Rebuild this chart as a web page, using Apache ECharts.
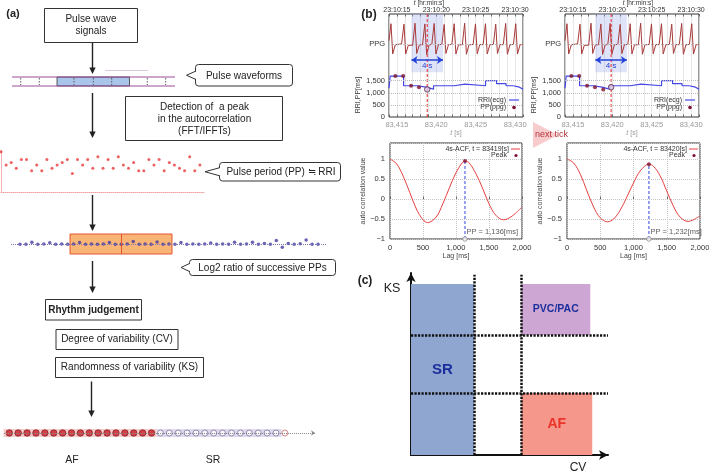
<!DOCTYPE html>
<html><head><meta charset="utf-8">
<script src="https://cdn.jsdelivr.net/npm/echarts@6/dist/echarts.min.js"></script>
<style>html,body{margin:0;padding:0;background:#fff}#c{width:709px;height:474px}</style>
</head><body><div id="c"></div>
<script>
// ===== Panel (b): time series (shared by both snapshots) =====
const ppgT = [83414.0, 83414.25, 83414.47, 83414.8, 83415.0, 83415.6,
  83415.9, 83416.12, 83416.45, 83416.65, 83417.0,
  83417.3, 83417.52, 83417.85, 83418.02, 83418.25,
  83418.55, 83418.77, 83419.1, 83419.27, 83419.43,
  83419.73, 83419.95, 83420.28, 83420.45, 83420.7,
  83421.0, 83421.22, 83421.55, 83421.72, 83421.97,
  83422.27, 83422.49, 83422.82, 83423.0, 83423.3,
  83423.6, 83423.82, 83424.15, 83424.33, 83424.67,
  83424.97, 83425.19, 83425.52, 83425.7, 83425.94,
  83426.24, 83426.46, 83426.79, 83426.97, 83427.24,
  83427.54, 83427.76, 83428.09, 83428.27, 83428.5,
  83428.8, 83429.02, 83429.35, 83429.53, 83429.78,
  83430.08, 83430.3, 83430.63, 83430.8, 83431.0];
const ppgV = [3150, 3850, 2600, 2980, 3060, 3020,
  3830, 2600, 2960, 3040, 2960,
  3870, 2620, 2980, 3050, 2980,
  3840, 2580, 2980, 3050, 2990,
  3860, 2600, 2990, 3060, 2990,
  3820, 2620, 2990, 3060, 2990,
  3850, 2600, 2980, 3050, 2980,
  3870, 2590, 2980, 3060, 2990,
  3840, 2610, 2990, 3050, 2980,
  3850, 2600, 2980, 3060, 2990,
  3830, 2620, 2990, 3050, 2980,
  3860, 2590, 2980, 3060, 2990,
  3850, 2600, 2980, 3060, 3000];
const rriT = [83414.0, 83414.15, 83415.85, 83417.6, 83418.7, 83419.65, 83422.25, 83423.65, 83426.25, 83427.65, 83428.85, 83429.75, 83430.55, 83431.0];
const rriV = [1190, 1690, 1290, 1230, 1150, 1290, 1360, 1290, 1500, 1375, 1290, 1230, 1150, 1150];
const ppT = [83414.8, 83415.8, 83416.8, 83417.8, 83418.85, 83419.85];
const ppV = [1690, 1690, 1290, 1230, 1136, 1232];
const currentIdx = [4, 5];          // left snapshot, right snapshot ("next tick")
const windowSec = 4;
const refLines = [500, 1000, 1500, 3000];

// ===== Panel (b): autocorrelation functions =====
const acfLagL = [0,100,200,300,400,500,570,700,800,900,1000,1100,1136,1200,1300,1400,1500,1600,1720,1800,1900,2000];
const acfValL = [1.0,0.88,0.57,0.16,-0.25,-0.52,-0.59,-0.45,-0.12,0.28,0.66,0.92,0.95,0.9,0.64,0.28,-0.12,-0.4,-0.52,-0.48,-0.36,-0.2];
const acfLagR = [0,100,200,300,400,500,610,700,800,900,1000,1100,1232,1300,1400,1500,1600,1700,1820,1900,2000];
const acfValR = [1.0,0.9,0.62,0.2,-0.2,-0.47,-0.57,-0.5,-0.28,0.05,0.4,0.7,0.87,0.82,0.58,0.2,-0.18,-0.45,-0.56,-0.52,-0.42];
const acfPeakLag = [1136, 1232];
const acfPeakVal = [0.95, 0.87];

// ===== Panel (a) =====
const ppDotsA = [1075, 885, 920, 840, 965, 965, 805, 885, 805, 965, 840, 885, 920, 965, 765, 965, 885, 965, 840, 1005,
  840, 965, 840, 1005, 885, 840, 920, 805, 805, 965, 885, 965, 805, 920, 885, 840, 805, 1005, 805, 885];
const log2Ratio = [-0.02,-0.02,0.12,-0.02,0,0.08,-0.02,0,-0.02,0,0.1,-0.02,0,-0.02,0,0.1,-0.02,-0.02,0,0.17,
  -0.02,0,-0.02,0.14,-0.02,0,-0.02,0.1,-0.02,0,-0.02,0,0.06,-0.02,0,-0.02,0.12,-0.02,0,0.12,
  -0.02,0.04,-0.02,0.24,-0.22,0.04,-0.02,0.02,0.27,-0.02,-0.02];
const windowA = [8.4, 17, 25.5];   // start, centre, end (beat index)
const rhythmSeq = ['AF','AF','AF','AF','AF','AF','AF','AF','AF','AF','AF','AF','AF','AF','AF','AF','AF',
  'SR','SR','SR','SR','SR','SR','SR','SR','SR','SR','SR','SR','SR','SR','?'];

// ===== Panel (c) =====
const regionNames = ['SR', 'PVC/PAC', 'AF'];
const regionCV = [[0, 3.2], [5.6, 9.1], [5.6, 9.2]];
const regionKS = [[0, 9.4], [6.6, 9.4], [0, 3.4]];
const cvThresholds = [3.2, 5.6];
const ksThresholds = [3.4, 6.6];

// ------------------------------------------------------------
const FONT = 'Liberation Sans';
const chart = echarts.init(document.getElementById('c'), null, {renderer: 'canvas', width: 709, height: 474});

function timeFmt(v) {
  v = Math.round(v); if (v % 5) return '';
  const h = Math.floor(v / 3600), m = Math.floor(v % 3600 / 60), s = v % 60;
  return h + ':' + String(m).padStart(2, '0') + ':' + String(s).padStart(2, '0');
}
function secFmt(v) { v = Math.round(v); return v % 5 ? '' : v.toLocaleString('en-US'); }
function rriFmt(v) { if (v === 3000) return 'PPG'; if (v <= 1500) return v.toLocaleString('en-US'); return ''; }
function acfYFmt(v) { const r = Math.round(v * 2) / 2; if (Math.abs(r - v) > 1e-6 || v > 1.01) return ''; return String(r).replace('-', '\u2212'); }

const gridBase = {show: true, borderColor: '#333', borderWidth: 1, backgroundColor: 'transparent', containLabel: false, outerBoundsMode: 'none'};
const grids = [
  Object.assign({left: 389, top: 14, width: 134, height: 103}, gridBase),
  Object.assign({left: 565, top: 14, width: 134, height: 103}, gridBase),
  Object.assign({left: 390, top: 143, width: 132, height: 96}, gridBase),
  Object.assign({left: 567, top: 143, width: 133, height: 96}, gridBase),
  {left: 411, top: 273, width: 197, height: 182, containLabel: false, outerBoundsMode: 'none'},
  {left: 1, top: 150, width: 204, height: 42, containLabel: false, outerBoundsMode: 'none'},
  {left: 11, top: 234, width: 316, height: 20, containLabel: false, outerBoundsMode: 'none'},
  {left: 0.4, top: 425, width: 320, height: 16, containLabel: false, outerBoundsMode: 'none'}
];

function tBottom(g) {
  return {gridIndex: g, type: 'value', position: 'bottom', min: 83414, max: 83431, interval: 1,
    axisLine: {show: false}, axisTick: {show: true, inside: true, length: 2.5, lineStyle: {color: '#666'}},
    axisLabel: {fontSize: 7.5, color: '#999', margin: 4, formatter: secFmt},
    splitLine: {show: true, lineStyle: {color: '#e0e0e0', width: 0.8}},
    name: '{i|t} [s]', nameLocation: 'middle', nameGap: 10,
    nameTextStyle: {fontSize: 7, color: '#999', rich: {i: {fontStyle: 'italic', fontSize: 7, color: '#999'}}}};
}
function tTop(g) {
  return {gridIndex: g, type: 'value', position: 'top', min: 83414, max: 83431, interval: 1,
    axisLine: {show: false}, axisTick: {show: true, inside: true, length: 2.5, lineStyle: {color: '#666'}},
    axisLabel: {fontSize: 7, color: '#333', margin: 0.5, formatter: timeFmt},
    splitLine: {show: false}};
}
function acfX(g) {
  return {gridIndex: g, type: 'value', min: 0, max: 2000, interval: 500,
    axisLine: {show: false}, axisTick: {show: true, inside: true, length: 2.5, lineStyle: {color: '#666'}},
    axisLabel: {fontSize: 7.5, color: '#333', margin: 5, formatter: v => v.toLocaleString('en-US')},
    splitLine: {show: true, lineStyle: {color: '#c4c4c4', type: 'dotted'}},
    name: 'Lag [ms]', nameLocation: 'middle', nameGap: 14, nameTextStyle: {fontSize: 7, color: '#444'}};
}
function acfY(g) {
  return {gridIndex: g, type: 'value', min: -1, max: 1.4, interval: 0.5,
    axisLine: {show: false}, axisTick: {show: false},
    axisLabel: {fontSize: 7.5, color: '#333', margin: 5, formatter: acfYFmt},
    splitLine: {show: true, lineStyle: {color: '#c4c4c4', type: 'dotted'}},
    name: 'auto correlation value', nameLocation: 'middle', nameRotate: 90, nameGap: 22,
    nameTextStyle: {fontSize: 7, color: '#444'}};
}
function rriY(g) {
  return {gridIndex: g, type: 'value', min: 0, max: 4250, interval: 500,
    axisLine: {show: false}, axisTick: {show: false}, splitLine: {show: false},
    axisLabel: {fontSize: 7.5, color: '#333', margin: 4, formatter: rriFmt}};
}
const hidden = (g, mn, mx) => ({gridIndex: g, type: 'value', min: mn, max: mx, show: false, splitLine: {show: false}});

const xAxes = [tBottom(0), tTop(0), tBottom(1), tTop(1), acfX(2), acfX(3),
  {gridIndex: 4, type: 'value', min: 0, max: 10, axisLine: {show: true, symbol: ['none', 'arrow'], symbolSize: [7, 9], lineStyle: {color: '#111', width: 2}}, axisTick: {show: false}, axisLabel: {show: false}, splitLine: {show: false}},
  {gridIndex: 5, type: 'value', min: 0, max: 40, axisLine: {show: true, onZero: false, lineStyle: {color: '#f0a0a0', type: 'dotted', width: 1}}, axisTick: {show: false}, axisLabel: {show: false}, splitLine: {show: false}},
  hidden(6, -1.5, 51.5),
  hidden(7, -1, 35)];
const yAxes = [rriY(0), rriY(1), acfY(2), acfY(3),
  {gridIndex: 4, type: 'value', min: 0, max: 10, axisLine: {show: true, onZero: false, symbol: ['none', 'arrow'], symbolSize: [7, 9], lineStyle: {color: '#111', width: 2}}, axisTick: {show: false}, axisLabel: {show: false}, splitLine: {show: false}},
  {gridIndex: 5, type: 'value', min: 500, max: 1100, axisLine: {show: true, onZero: false, lineStyle: {color: '#f0a0a0', type: 'dotted', width: 1}}, axisTick: {show: false}, axisLabel: {show: false}, splitLine: {show: false}},
  hidden(6, -0.67, 0.67),
  hidden(7, -1, 1)];

function host(xi, yi, pt, z, extra) {
  return Object.assign({type: 'scatter', xAxisIndex: xi, yAxisIndex: yi, data: [pt], symbolSize: 0, silent: true, z: z, clip: true}, extra);
}
function ls(color, type, width) { return {color: color, type: type, width: width, opacity: 1}; }
function vline(xi, yi, pts, color, z) {
  return {type: 'line', xAxisIndex: xi, yAxisIndex: yi, data: pts, symbol: 'none', silent: true, z: z,
    itemStyle: {color: color}, lineStyle: {color: color, type: [3, 2], width: 1}};
}

function timePanel(xb, yi, cur) {
  const c = ppT[cur];
  const blue = ls('#2343d8', 'solid', 1.5), grey = ls('#bdbdbd', 'dotted', 1);
  return [
    host(xb, yi, [83414, 0], 1, {
      markArea: {silent: true, itemStyle: {color: 'rgba(160,172,238,0.33)'},
        data: [[{coord: [c - windowSec / 2, 1850]}, {coord: [c + windowSec / 2, 4250]}]]},
      markLine: {silent: true, symbol: 'none', label: {show: false}, lineStyle: grey,
        data: refLines.map(v => ({yAxis: v, lineStyle: grey}))}}),
    {type: 'line', xAxisIndex: xb, yAxisIndex: yi, data: ppgT.map((t, i) => [t, ppgV[i]]), symbol: 'none',
      lineStyle: {color: '#a83a3a', width: 1}, z: 3, silent: true},
    {type: 'line', step: 'end', xAxisIndex: xb, yAxisIndex: yi, data: rriT.map((t, i) => [t, rriV[i]]), symbol: 'none',
      lineStyle: {color: '#4646e6', width: 1.2}, z: 3, silent: true},
    vline(xb, yi, [[c, 0], [c, 4250]], '#e52a2a', 4),
    host(xb, yi, [83414, 0], 4, {
      itemStyle: {color: '#2343d8'},
      markLine: {silent: true, symbol: ['arrow', 'arrow'], symbolSize: 6, lineStyle: blue, itemStyle: {color: '#2343d8'},
        label: {show: true, formatter: windowSec + ' s', position: 'insideMiddleBottom', color: '#2343d8', fontSize: 8, distance: 2},
        data: [[{coord: [c - windowSec / 2, 2350], lineStyle: blue}, {coord: [c + windowSec / 2, 2350]}]]}}),
    {type: 'scatter', xAxisIndex: xb, yAxisIndex: yi, data: ppT.slice(0, cur).map((t, i) => [t, ppV[i]]),
      symbolSize: 4, itemStyle: {color: '#7d1230'}, z: 5, silent: true},
    {type: 'scatter', xAxisIndex: xb, yAxisIndex: yi, data: [[c, ppV[cur]]], symbolSize: 5.5,
      itemStyle: {color: '#d6c6e6', borderColor: '#5a2a4a', borderWidth: 1}, z: 6, silent: true}
  ];
}

function acfPanel(xi, yi, lags, vals, k) {
  const pp = acfPeakLag[k], pv = acfPeakVal[k];
  return [
    vline(xi, yi, [[pp, -1], [pp, pv]], '#3344dd', 2),
    {type: 'line', xAxisIndex: xi, yAxisIndex: yi, data: lags.map((l, i) => [l, vals[i]]), smooth: 0.35, symbol: 'none',
      lineStyle: {color: '#e84040', width: 1}, z: 3, silent: true},
    {type: 'scatter', xAxisIndex: xi, yAxisIndex: yi, data: [[pp, pv]], symbolSize: 4, itemStyle: {color: '#7d1230'}, z: 5, silent: true},
    {type: 'scatter', xAxisIndex: xi, yAxisIndex: yi, data: [[pp, -1]], symbolSize: 4.5, clip: false,
      itemStyle: {color: '#fff', borderColor: '#888', borderWidth: 1}, z: 5, silent: true},
    {type: 'scatter', xAxisIndex: xi, yAxisIndex: yi, data: [[pp, -0.83]], symbolSize: 1, itemStyle: {color: 'transparent'}, z: 5, silent: true,
      label: {show: true, position: 'right', distance: 1, fontSize: 7.5, color: '#333', formatter: 'PP = ' + pp.toLocaleString('en-US') + '[ms]'}}
  ];
}

const regionColors = ['#8fa6d1', '#cea6d3', '#f6978c'];
const regionTextColors = ['#1b2f9c', '#1b2f9c', '#ea3329'];
const regionFont = [15, 10.5, 14];
const blackDot = ls('#111', [2.2, 1.3], 2.5);

const series = [].concat(
  timePanel(0, 0, currentIdx[0]),
  timePanel(2, 1, currentIdx[1]),
  acfPanel(4, 2, acfLagL, acfValL, 0),
  acfPanel(5, 3, acfLagR, acfValR, 1),
  [
    // panel (c)
    host(6, 4, [0, 0], 2, {
      markArea: {silent: true,
        data: regionNames.map((n, i) => [
          {name: n, coord: [regionCV[i][0], regionKS[i][0]], itemStyle: {color: regionColors[i], opacity: 1},
            label: {show: true, position: 'inside', color: regionTextColors[i], fontSize: regionFont[i], fontWeight: 'bold', fontFamily: FONT}},
          {coord: [regionCV[i][1], regionKS[i][1]]}])}}),
    host(6, 4, [0, 0], 3, {
      markLine: {silent: true, symbol: 'none', label: {show: false}, lineStyle: blackDot,
        data: cvThresholds.map(v => [{coord: [v, 0], lineStyle: blackDot}, {coord: [v, 9.9]}]).concat(
              ksThresholds.map(v => [{coord: [0, v], lineStyle: blackDot}, {coord: [10, v]}]))}}),
    // panel (a) PP dots
    {type: 'scatter', xAxisIndex: 7, yAxisIndex: 5, data: ppDotsA.map((v, i) => [i, v]), symbolSize: 3,
      itemStyle: {color: '#e83a3a'}, silent: true, z: 3},
    // panel (a) log2 ratio
    host(8, 6, [-1.5, 0], 1, {
      markArea: {silent: true, itemStyle: {color: '#f8b576', borderColor: '#e2562e', borderWidth: 1},
        data: [[{coord: [windowA[0], -0.67]}, {coord: [windowA[2], 0.67]}]]},
      markLine: {silent: true, symbol: 'none', label: {show: false},
        data: [
          [{coord: [-1.5, 0], lineStyle: ls('#7a78b8', 'dotted', 1)}, {coord: [51.5, 0]}],
          [{coord: [windowA[1], -0.67], lineStyle: ls('#e2562e', 'solid', 1)}, {coord: [windowA[1], 0.67]}]]}}),
    {type: 'scatter', xAxisIndex: 8, yAxisIndex: 6, data: log2Ratio.map((v, i) => [i, v]), symbolSize: 3.5,
      itemStyle: {color: '#45399e'}, silent: true, z: 3},
    // panel (a) rhythm row
    host(9, 7, [-1, 0], 1, {
      itemStyle: {color: '#888'},
      markArea: {silent: true,
        data: [
          [{coord: [-0.65, -0.5], itemStyle: {color: '#f7caca'}}, {coord: [16.58, 0.5]}],
          [{coord: [16.58, -0.5], itemStyle: {color: '#dfd8ef'}}, {coord: [30.62, 0.5]}]]},
      markLine: {silent: true, symbol: ['none', 'arrow'], symbolSize: 4, label: {show: false},
        lineStyle: ls('#888', 'dotted', 1), itemStyle: {color: '#888'},
        data: [[{coord: [-0.6, 0], lineStyle: ls('#888', 'dotted', 1)}, {coord: [34.4, 0]}]]}}),
    {type: 'scatter', xAxisIndex: 9, yAxisIndex: 7, z: 3, silent: true, symbolSize: 6.5,
      data: rhythmSeq.map((r, i) => r === 'AF' ? [i, 0] : null).filter(Boolean),
      itemStyle: {color: '#c81e28', borderColor: '#7a1018', borderWidth: 0.8}},
    {type: 'scatter', xAxisIndex: 9, yAxisIndex: 7, z: 3, silent: true, symbolSize: 6,
      data: rhythmSeq.map((r, i) => r === 'SR' ? [i, 0] : null).filter(Boolean),
      itemStyle: {color: '#fff', borderColor: '#8078a4', borderWidth: 1}},
    {type: 'scatter', xAxisIndex: 9, yAxisIndex: 7, z: 3, silent: true, symbolSize: 6,
      data: rhythmSeq.map((r, i) => r === '?' ? [i, 0] : null).filter(Boolean),
      itemStyle: {color: '#fff', borderColor: '#d06868', borderWidth: 1}}
  ]
);

// ---------- graphic helpers (layout / annotations) ----------
function txt(x, y, text, size, o) {
  o = o || {};
  const st = {text: text, x: x, y: y, font: (o.weight || 'normal') + ' ' + size + 'px "' + FONT + '"', fill: o.color || '#222',
    align: o.align || 'center', verticalAlign: o.va || 'middle', textAlign: o.align || 'center', textVerticalAlign: o.va || 'middle'};
  if (o.lh) st.lineHeight = o.lh;
  if (o.rich) st.rich = o.rich;
  const el = {type: 'text', z: 20, style: st};
  if (o.rot) { el.x = x; el.y = y; el.rotation = o.rot; st.x = 0; st.y = 0; }
  return el;
}
function rect(x, y, w, h, o) {
  o = o || {};
  return {type: 'rect', z: o.z || 10, shape: {x: x, y: y, width: w, height: h, r: o.r || 0},
    style: {fill: o.fill || '#fff', stroke: o.stroke === undefined ? '#333' : o.stroke, lineWidth: o.lw || 1}};
}
function line(x1, y1, x2, y2, o) {
  o = o || {};
  return {type: 'line', z: o.z || 10, shape: {x1: x1, y1: y1, x2: x2, y2: y2},
    style: {stroke: o.stroke || '#333', lineWidth: o.lw || 1, lineDash: o.dash || null}};
}
function arrowDown(x, y1, y2) {
  return [line(x, y1, x, y2 - 5, {stroke: '#222', lw: 1.4}),
    {type: 'polygon', z: 10, shape: {points: [[x - 3.2, y2 - 6.5], [x + 3.2, y2 - 6.5], [x, y2]]}, style: {fill: '#222'}}];
}
function callout(x, y, w, h, tipX, text, tx) {
  const cy = y + h / 2;
  return [rect(x, y, w, h, {r: 3}),
    {type: 'polygon', z: 11, shape: {points: [[tipX, cy], [x + 1.3, cy - 4], [x + 1.3, cy + 4]]}, style: {fill: '#fff'}},
    {type: 'polyline', z: 11, shape: {points: [[x, cy - 4], [tipX, cy], [x, cy + 4]]}, style: {stroke: '#333', lineWidth: 1, fill: null}},
    txt(tx, cy + 0.5, text, 10)];
}
function legendTop(r) {
  return [txt(r - 17, 100, 'RRI(ecg)', 7, {align: 'right', color: '#333'}),
    line(r - 14, 100, r - 4, 100, {stroke: '#4646e6', lw: 1.2, z: 20}),
    txt(r - 17, 107.5, 'PP(ppg)', 7, {align: 'right', color: '#333'}),
    {type: 'circle', z: 20, shape: {cx: r - 9, cy: 107.5, r: 1.8}, style: {fill: '#7d1230'}}];
}
function legendAcf(r, t) {
  return [txt(r - 13, 149, '4s-ACF, t = ' + t + '[s]', 7, {align: 'right', color: '#333'}),
    line(r - 11, 149, r - 2, 149, {stroke: '#e84040', lw: 1, z: 20}),
    txt(r - 15, 155.5, 'Peak', 7, {align: 'right', color: '#333'}),
    {type: 'circle', z: 20, shape: {cx: r - 6, cy: 155.5, r: 1.6}, style: {fill: '#7d1230'}}];
}
const italicT = {i: {fontStyle: 'italic', fontSize: 6.5, fontFamily: FONT, fill: '#333', color: '#333'}};

const stripDash = [20.7, 39.3, 74, 93.3, 111.7, 147.3, 165.7];
const graphics = [].concat(
  [txt(13, 14, '(a)', 11, {weight: 'bold'}),
   rect(44.5, 8.5, 93, 34), txt(91, 25.5, 'Pulse wave\nsignals', 10, {lh: 12})],
  arrowDown(92.5, 43, 74),
  [line(105, 70.5, 148, 70.5, {stroke: '#dcc8dc'}),
   rect(57, 77, 72.5, 9, {fill: '#a9c6ea', stroke: '#333', lw: 0.8}),
   line(12, 77, 175, 77, {stroke: '#9a4a9a'}), line(12, 86, 175, 86, {stroke: '#9a4a9a'})],
  stripDash.map(x => line(x, 78, x, 85, {stroke: '#555', dash: [1.5, 1.5], z: 11})),
  callout(195.5, 64.5, 97, 21.5, 186.5, 'Pulse waveforms', 244),
  arrowDown(92.5, 93, 138),
  [rect(125.5, 96.5, 157, 44), txt(204.5, 119, 'Detection of  a peak\nin the autocorrelation\n(FFT/IFFTs)', 10, {lh: 12})],
  callout(219.5, 162.5, 121, 18.5, 205, 'Pulse period (PP) \u2252 RRI', 281),
  arrowDown(92.5, 195, 231),
  callout(189.5, 259.5, 146, 16, 181, 'Log2 ratio of successive PPs', 262.5),
  arrowDown(92.5, 261, 293),
  [rect(45.5, 299.5, 96, 20.5), txt(93.5, 310, 'Rhythm judgement', 10, {weight: 'bold'}),
   rect(56, 329.5, 122, 20), txt(117, 339.5, 'Degree of variability (CV)', 10),
   rect(55.5, 357.5, 148, 20), txt(129.5, 367.5, 'Randomness of variability (KS)', 10)],
  arrowDown(91.5, 381.5, 417),
  [txt(72, 460, 'AF', 10.5), txt(213, 460, 'SR', 10.5)],
  // panel (b) annotations
  [txt(369, 15, '(b)', 12, {weight: 'bold'}),
   txt(429, 3.5, '{i|t} [hr:min:s]', 6.5, {color: '#333', rich: italicT}),
   txt(638, 3.5, '{i|t} [hr:min:s]', 6.5, {color: '#333', rich: italicT}),
   txt(358, 95, 'RRI,PP[ms]', 7, {rot: Math.PI / 2, color: '#333'}),
   txt(534, 95, 'RRI,PP[ms]', 7, {rot: Math.PI / 2, color: '#333'}),
   {type: 'polygon', z: 5, shape: {points: [[533, 122], [533, 148], [558, 135]]}, style: {fill: '#f8cccc'}},
   txt(551.5, 135, 'next tick', 9, {color: '#b5343a'})],
  legendTop(523), legendTop(699),
  legendAcf(522, Math.round(ppT[currentIdx[0]])), legendAcf(700, Math.round(ppT[currentIdx[1]])),
  // panel (c) labels
  [txt(365, 281, '(c)', 12, {weight: 'bold'}),
   txt(392, 289, 'KS', 12.5),
   txt(578, 468, 'CV', 12)]
);

chart.setOption({
  animation: false,
  backgroundColor: '#fff',
  textStyle: {fontFamily: FONT},
  grid: grids,
  xAxis: xAxes,
  yAxis: yAxes,
  series: series,
  graphic: {elements: graphics}
});
</script>
</body></html>
